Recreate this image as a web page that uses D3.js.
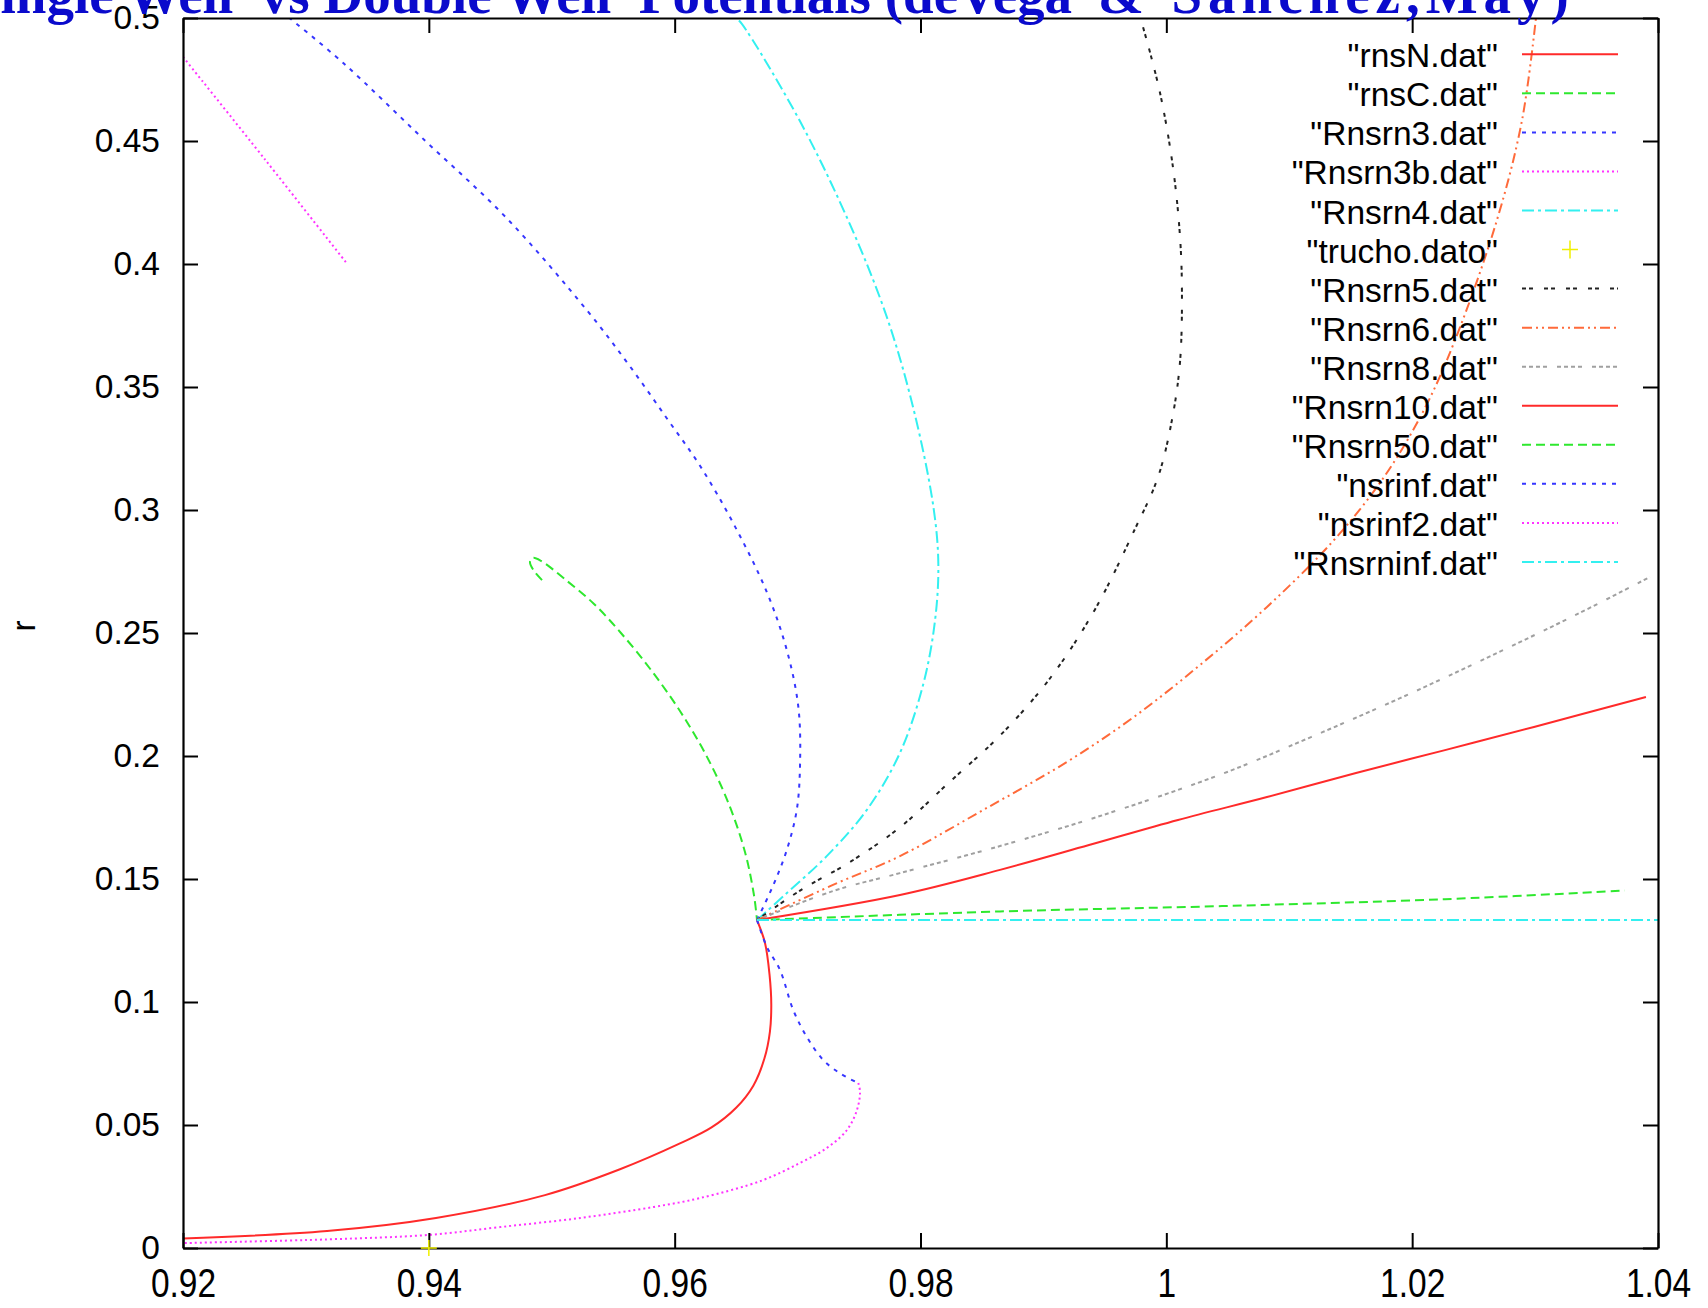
<!DOCTYPE html>
<html><head><meta charset="utf-8">
<script src="https://cdn.jsdelivr.net/npm/d3@7"></script>
<style>
body{margin:0;background:#fff;}
svg{display:block;}
</style>
</head><body>
<svg id="chart" width="1708" height="1308"></svg>
<script>
// ---------- data ----------
const titleWords = ["Single Well  vs Double Well  Potentials (deVega", "&", "Sanchez,May)"];
const yLabel = "r";
const xTicks = [0.92, 0.94, 0.96, 0.98, 1.0, 1.02, 1.04];
const xTickLabels = ["0.92", "0.94", "0.96", "0.98", "1", "1.02", "1.04"];
const yTicks = [0, 0.05, 0.1, 0.15, 0.2, 0.25, 0.3, 0.35, 0.4, 0.45, 0.5];
const yTickLabels = ["0", "0.05", "0.1", "0.15", "0.2", "0.25", "0.3", "0.35", "0.4", "0.45", "0.5"];
const seriesNames = ["\"rnsN.dat\"", "\"rnsC.dat\"", "\"Rnsrn3.dat\"", "\"Rnsrn3b.dat\"", "\"Rnsrn4.dat\"",
  "\"trucho.dato\"", "\"Rnsrn5.dat\"", "\"Rnsrn6.dat\"", "\"Rnsrn8.dat\"", "\"Rnsrn10.dat\"",
  "\"Rnsrn50.dat\"", "\"nsrinf.dat\"", "\"nsrinf2.dat\"", "\"Rnsrninf.dat\""];

const rnsN = [[0.92,0.0039],[0.93172,0.0069],[0.94058,0.0122],[0.94945,0.0215],[0.95555,0.0320],
  [0.96043,0.0425],[0.96300,0.0490],[0.96500,0.0570],[0.96640,0.0660],[0.96730,0.0770],
  [0.96775,0.0880],[0.96786,0.0990],[0.96772,0.1110],[0.96735,0.1240],[0.9667,0.1333]];
const rnsC = [[0.94921,0.2715],[0.94856,0.2752],[0.94823,0.2789],[0.94847,0.2805],[0.94913,0.2793],
  [0.95116,0.2715],[0.95344,0.2618],[0.95563,0.2500],[0.95807,0.2350],[0.96043,0.2183],
  [0.96255,0.2004],[0.96434,0.1813],[0.96572,0.1610],[0.96645,0.1435],[0.9667,0.1333]];
const Rnsrn3 = [[0.9667,0.1333],[0.96803,0.1476],[0.96911,0.1616],[0.96993,0.1780],[0.97020,0.1966],
  [0.97006,0.2200],[0.96911,0.2433],[0.96749,0.2667],[0.96477,0.2946],[0.96206,0.3180],
  [0.95940,0.3370],[0.95629,0.3589],[0.95297,0.3805],[0.94632,0.4187],[0.93968,0.4502],
  [0.93304,0.4817],[0.92866,0.5000]];
const Rnsrn3b = [[0.92,0.4842],[0.9267,0.4423],[0.9333,0.4004]];
const Rnsrn4 = [[0.9667,0.1333],[0.96884,0.1430],[0.97237,0.1593],[0.97562,0.1780],[0.97833,0.2013],
  [0.98023,0.2293],[0.98118,0.2550],[0.98145,0.2783],[0.98104,0.3016],[0.97942,0.3413],
  [0.97725,0.3786],[0.97427,0.4160],[0.97020,0.4580],[0.96545,0.4977],[0.96500,0.5000]];
const trucho = [[0.94,0.0]];
const Rnsrn5 = [[0.9667,0.1333],[0.97020,0.1453],[0.97426,0.1569],[0.97833,0.1710],[0.98240,0.1896],
  [0.98647,0.2083],[0.99054,0.2316],[0.99420,0.2596],[0.99745,0.2923],[0.99932,0.3133],
  [1.00046,0.3367],[1.00111,0.3600],[1.00127,0.3880],[1.00111,0.4113],[1.00054,0.4393],
  [0.99948,0.4697],[0.99802,0.4977],[0.99786,0.5000]];
const Rnsrn6 = [[0.9667,0.1333],[0.97288,0.1476],[0.97833,0.1593],[0.98508,0.1780],[0.99192,0.1976],
  [0.99737,0.2159],[1.00274,0.2370],[1.00819,0.2606],[1.01364,0.2878],[1.01771,0.3134],
  [1.02096,0.3407],[1.02349,0.3691],[1.02690,0.4179],[1.02894,0.4585],[1.03007,0.5000]];
const Rnsrn8 = [[0.9667,0.1333],[0.97288,0.1451],[0.97833,0.1524],[0.98647,0.1634],[0.99460,0.1756],
  [1.00453,0.1927],[1.01177,0.2077],[1.01901,0.2235],[1.02633,0.2405],[1.03357,0.2580],
  [1.03935,0.2728]];
const Rnsrn10 = [[0.9667,0.1333],[0.97833,0.1435],[0.98647,0.1537],[0.99371,0.1638],[1.00095,0.1740],
  [1.00819,0.1833],[1.01543,0.1931],[1.02267,0.2024],[1.02991,0.2118],[1.03902,0.2240]];
const Rnsrn50 = [[0.9667,0.1333],[0.98647,0.1368],[1.00453,0.1390],[1.02267,0.1418],[1.03731,0.1453]];
const nsrinf = [[0.9667,0.1333],[0.96749,0.1225],[0.96857,0.1130],[0.96965,0.0967],[0.97074,0.0859],
  [0.97209,0.0764],[0.97345,0.0710],[0.97494,0.0670]];
const nsrinf2 = [[0.97494,0.0671],[0.97508,0.0634],[0.97483,0.0561],[0.97402,0.0480],[0.97239,0.0407],
  [0.97020,0.0346],[0.96719,0.0276],[0.96206,0.0203],[0.95832,0.0167],[0.95230,0.0122],
  [0.94579,0.0085],[0.93993,0.0053],[0.93172,0.0035],[0.92,0.0020]];
const Rnsrninf = [[0.9667,0.1333],[1.04,0.1333]];

// ---------- styles (kept apart from data) ----------
const seriesData = [rnsN, rnsC, Rnsrn3, Rnsrn3b, Rnsrn4, trucho, Rnsrn5, Rnsrn6, Rnsrn8, Rnsrn10, Rnsrn50, nsrinf, nsrinf2, Rnsrninf];
const seriesStyle = [
  {c:"#ff2a2a", d:null},
  {c:"#2ee82e", d:"9,5"},
  {c:"#3636ff", d:"4,6"},
  {c:"#ff33ff", d:"2,3"},
  {c:"#33f0f0", d:"12,4,3,4"},
  {c:"#f0f000", d:"points"},
  {c:"#222222", d:"4,3,4,11"},
  {c:"#ff6a3a", d:"10,4,2,4,2,4"},
  {c:"#a0a0a0", d:"4,3,4,3,4,3,4,10"},
  {c:"#ff2a2a", d:null},
  {c:"#2ee82e", d:"9,5"},
  {c:"#3636ff", d:"4,6"},
  {c:"#ff33ff", d:"2,3"},
  {c:"#33f0f0", d:"12,4,3,4"}
];

// ---------- layout ----------
const W = 1708, H = 1308;
const pL = 183, pR = 1658, pT = 18, pB = 1248;
const svg = d3.select("#chart");
svg.append("rect").attr("width", W).attr("height", H).attr("fill", "#fff");

const xs = d3.scaleLinear().domain([0.92, 1.04]).range([pL, pR]);
const ys = d3.scaleLinear().domain([0, 0.5]).range([pB, pT]);

const fontSans = "'Liberation Sans', Arial, Helvetica, sans-serif";
const fs = 33.5;

svg.append("defs").append("clipPath").attr("id", "plotclip")
  .append("rect").attr("x", pL).attr("y", pT).attr("width", pR - pL).attr("height", pB - pT);

const lineGen = d3.line().x(d => xs(d[0])).y(d => ys(d[1])).curve(d3.curveCatmullRom.alpha(0.5));
const plot = svg.append("g").attr("clip-path", "url(#plotclip)");
const pointLayer = [];
seriesData.forEach((data, i) => {
  const st = seriesStyle[i];
  if (st.d === "points") { pointLayer.push([data, st]); return; }
  plot.append("path").datum(data)
    .attr("d", lineGen)
    .attr("fill", "none")
    .attr("stroke", st.c)
    .attr("stroke-width", 2)
    .attr("stroke-dasharray", st.d)
    .attr("stroke-linejoin", "round");
});

const tickLen = 15;
const axB = svg.append("g").attr("transform", `translate(0,${pB})`)
  .call(d3.axisBottom(xs).tickValues(xTicks).tickSize(-tickLen).tickSizeOuter(0).tickPadding(16.7)
    .tickFormat((d, i) => xTickLabels[i]));
const axT = svg.append("g").attr("transform", `translate(0,${pT})`)
  .call(d3.axisTop(xs).tickValues(xTicks).tickSize(-tickLen).tickSizeOuter(0).tickFormat(""));
const axL = svg.append("g").attr("transform", `translate(${pL},0)`)
  .call(d3.axisLeft(ys).tickValues(yTicks).tickSize(-tickLen).tickSizeOuter(0).tickPadding(23)
    .tickFormat((d, i) => yTickLabels[i]));
const axR = svg.append("g").attr("transform", `translate(${pR},0)`)
  .call(d3.axisRight(ys).tickValues(yTicks).tickSize(-tickLen).tickSizeOuter(0).tickFormat(""));

[axB, axT, axL, axR].forEach(a => {
  a.select(".domain").attr("stroke", "#000").attr("stroke-width", 2.2);
  a.selectAll(".tick line").attr("stroke", "#000").attr("stroke-width", 2);
  a.selectAll("text").attr("font-family", fontSans).attr("font-size", fs).attr("fill", "#000");
});
axB.selectAll(".tick text").attr("transform", "scale(1,1.2)");

pointLayer.forEach(([data, st]) => {
  const g = svg.append("g");
  data.forEach(p => {
    g.append("path")
      .attr("d", `M${xs(p[0]) - 8},${ys(p[1])}h16M${xs(p[0])},${ys(p[1]) - 8}v16`)
      .attr("stroke", st.c).attr("stroke-width", 1.5).attr("fill", "none");
  });
});

svg.append("text")
  .attr("transform", "translate(35,626) rotate(-90)")
  .attr("text-anchor", "middle")
  .attr("font-family", fontSans).attr("font-size", fs)
  .text(yLabel);

const legX = 1498, legL0 = 1522, legL1 = 1618, legY0 = 54.3, legDy = 39.05;
seriesNames.forEach((nm, i) => {
  const yy = legY0 + i * legDy;
  svg.append("text")
    .attr("x", legX).attr("y", yy + 13)
    .attr("text-anchor", "end")
    .attr("font-family", fontSans).attr("font-size", fs).attr("fill", "#000")
    .text(nm);
  const st = seriesStyle[i];
  if (st.d === "points") {
    const cx = (legL0 + legL1) / 2;
    svg.append("path").attr("d", `M${cx - 8},${yy}h16M${cx},${yy - 9}v18`)
      .attr("stroke", st.c).attr("stroke-width", 1.5).attr("fill", "none");
  } else {
    svg.append("line").attr("x1", legL0).attr("x2", legL1).attr("y1", yy).attr("y2", yy)
      .attr("stroke", st.c).attr("stroke-width", 2).attr("stroke-dasharray", st.d);
  }
});

// title (partly above the page, as in the reference)
const title = svg.append("text")
  .attr("x", -30).attr("y", 13)
  .attr("font-family", "'Liberation Serif', 'Times New Roman', serif")
  .attr("font-weight", "bold")
  .attr("font-size", 55)
  .attr("fill", "#0a0acc")
  .style("white-space", "pre");
const titleDx = [0, 12, 14];
const titleLS = [0, 0, 6];
titleWords.forEach((w, i) => {
  title.append("tspan")
    .attr("dx", titleDx[i])
    .attr("letter-spacing", titleLS[i])
    .text(w + (i < titleWords.length - 1 ? " " : ""));
});
</script>
</body></html>
